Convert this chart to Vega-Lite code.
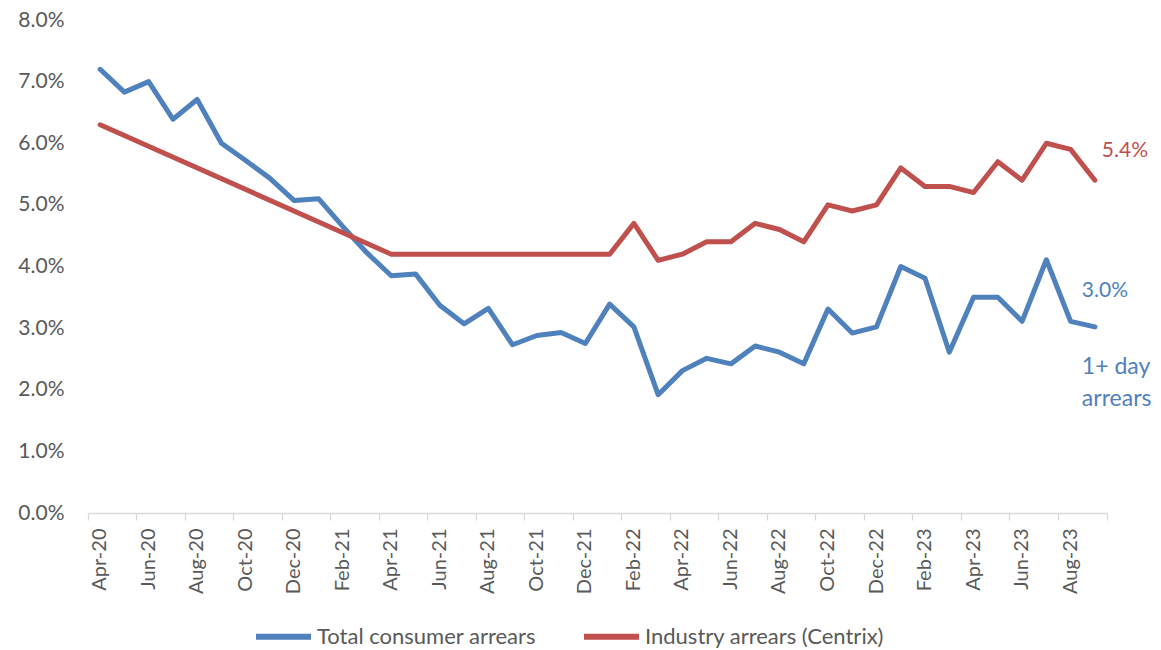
{
  "$schema": "https://vega.github.io/schema/vega-lite/v6.json",
  "width": 1019,
  "height": 493,
  "autosize": {"type": "none"},
  "padding": {"left": 88, "top": 20, "right": 54, "bottom": 137},
  "background": "white",
  "config": {"view": {"stroke": null}, "font": "Lato"},
  "data": {
    "values": [
      {"month": "Apr-20", "series": "Total consumer arrears", "value": 0.072},
      {"month": "May-20", "series": "Total consumer arrears", "value": 0.0683},
      {"month": "Jun-20", "series": "Total consumer arrears", "value": 0.07},
      {"month": "Jul-20", "series": "Total consumer arrears", "value": 0.0639},
      {"month": "Aug-20", "series": "Total consumer arrears", "value": 0.0671},
      {"month": "Sep-20", "series": "Total consumer arrears", "value": 0.06},
      {"month": "Oct-20", "series": "Total consumer arrears", "value": 0.0572},
      {"month": "Nov-20", "series": "Total consumer arrears", "value": 0.0543},
      {"month": "Dec-20", "series": "Total consumer arrears", "value": 0.0507},
      {"month": "Jan-21", "series": "Total consumer arrears", "value": 0.051},
      {"month": "Feb-21", "series": "Total consumer arrears", "value": 0.0465},
      {"month": "Mar-21", "series": "Total consumer arrears", "value": 0.0422},
      {"month": "Apr-21", "series": "Total consumer arrears", "value": 0.0385},
      {"month": "May-21", "series": "Total consumer arrears", "value": 0.0388},
      {"month": "Jun-21", "series": "Total consumer arrears", "value": 0.0337},
      {"month": "Jul-21", "series": "Total consumer arrears", "value": 0.0307},
      {"month": "Aug-21", "series": "Total consumer arrears", "value": 0.0332},
      {"month": "Sep-21", "series": "Total consumer arrears", "value": 0.0273},
      {"month": "Oct-21", "series": "Total consumer arrears", "value": 0.0288},
      {"month": "Nov-21", "series": "Total consumer arrears", "value": 0.0293},
      {"month": "Dec-21", "series": "Total consumer arrears", "value": 0.0275},
      {"month": "Jan-22", "series": "Total consumer arrears", "value": 0.0339},
      {"month": "Feb-22", "series": "Total consumer arrears", "value": 0.0302},
      {"month": "Mar-22", "series": "Total consumer arrears", "value": 0.0192},
      {"month": "Apr-22", "series": "Total consumer arrears", "value": 0.0231},
      {"month": "May-22", "series": "Total consumer arrears", "value": 0.0251},
      {"month": "Jun-22", "series": "Total consumer arrears", "value": 0.0242},
      {"month": "Jul-22", "series": "Total consumer arrears", "value": 0.0271},
      {"month": "Aug-22", "series": "Total consumer arrears", "value": 0.0261},
      {"month": "Sep-22", "series": "Total consumer arrears", "value": 0.0242},
      {"month": "Oct-22", "series": "Total consumer arrears", "value": 0.0331},
      {"month": "Nov-22", "series": "Total consumer arrears", "value": 0.0292},
      {"month": "Dec-22", "series": "Total consumer arrears", "value": 0.0302},
      {"month": "Jan-23", "series": "Total consumer arrears", "value": 0.04},
      {"month": "Feb-23", "series": "Total consumer arrears", "value": 0.0381},
      {"month": "Mar-23", "series": "Total consumer arrears", "value": 0.0261},
      {"month": "Apr-23", "series": "Total consumer arrears", "value": 0.035},
      {"month": "May-23", "series": "Total consumer arrears", "value": 0.035},
      {"month": "Jun-23", "series": "Total consumer arrears", "value": 0.0311},
      {"month": "Jul-23", "series": "Total consumer arrears", "value": 0.0411},
      {"month": "Aug-23", "series": "Total consumer arrears", "value": 0.0311},
      {"month": "Sep-23", "series": "Total consumer arrears", "value": 0.0302},
      {"month": "Apr-20", "series": "Industry arrears (Centrix)", "value": 0.063},
      {"month": "Apr-21", "series": "Industry arrears (Centrix)", "value": 0.042},
      {"month": "May-21", "series": "Industry arrears (Centrix)", "value": 0.042},
      {"month": "Jun-21", "series": "Industry arrears (Centrix)", "value": 0.042},
      {"month": "Jul-21", "series": "Industry arrears (Centrix)", "value": 0.042},
      {"month": "Aug-21", "series": "Industry arrears (Centrix)", "value": 0.042},
      {"month": "Sep-21", "series": "Industry arrears (Centrix)", "value": 0.042},
      {"month": "Oct-21", "series": "Industry arrears (Centrix)", "value": 0.042},
      {"month": "Nov-21", "series": "Industry arrears (Centrix)", "value": 0.042},
      {"month": "Dec-21", "series": "Industry arrears (Centrix)", "value": 0.042},
      {"month": "Jan-22", "series": "Industry arrears (Centrix)", "value": 0.042},
      {"month": "Feb-22", "series": "Industry arrears (Centrix)", "value": 0.047},
      {"month": "Mar-22", "series": "Industry arrears (Centrix)", "value": 0.041},
      {"month": "Apr-22", "series": "Industry arrears (Centrix)", "value": 0.042},
      {"month": "May-22", "series": "Industry arrears (Centrix)", "value": 0.044},
      {"month": "Jun-22", "series": "Industry arrears (Centrix)", "value": 0.044},
      {"month": "Jul-22", "series": "Industry arrears (Centrix)", "value": 0.047},
      {"month": "Aug-22", "series": "Industry arrears (Centrix)", "value": 0.046},
      {"month": "Sep-22", "series": "Industry arrears (Centrix)", "value": 0.044},
      {"month": "Oct-22", "series": "Industry arrears (Centrix)", "value": 0.05},
      {"month": "Nov-22", "series": "Industry arrears (Centrix)", "value": 0.049},
      {"month": "Dec-22", "series": "Industry arrears (Centrix)", "value": 0.05},
      {"month": "Jan-23", "series": "Industry arrears (Centrix)", "value": 0.056},
      {"month": "Feb-23", "series": "Industry arrears (Centrix)", "value": 0.053},
      {"month": "Mar-23", "series": "Industry arrears (Centrix)", "value": 0.053},
      {"month": "Apr-23", "series": "Industry arrears (Centrix)", "value": 0.052},
      {"month": "May-23", "series": "Industry arrears (Centrix)", "value": 0.057},
      {"month": "Jun-23", "series": "Industry arrears (Centrix)", "value": 0.054},
      {"month": "Jul-23", "series": "Industry arrears (Centrix)", "value": 0.06},
      {"month": "Aug-23", "series": "Industry arrears (Centrix)", "value": 0.059},
      {"month": "Sep-23", "series": "Industry arrears (Centrix)", "value": 0.054}
    ]
  },
  "encoding": {
    "y": {
      "field": "value",
      "type": "quantitative",
      "title": null,
      "scale": {"domain": [0, 0.08], "nice": false, "zero": true},
      "axis": {
        "values": [0, 0.01, 0.02, 0.03, 0.04, 0.05, 0.06, 0.07, 0.08],
        "format": ".1%",
        "domain": false,
        "ticks": false,
        "grid": false,
        "labelPadding": 24,
        "labelFontSize": 21,
        "labelFont": "Lato",
        "labelColor": "#595959"
      }
    }
  },
  "layer": [
    {
      "mark": {"type": "line", "strokeWidth": 5, "strokeCap": "round", "strokeJoin": "round"},
      "encoding": {
        "x": {
          "field": "month",
          "type": "ordinal",
          "sort": null,
          "bandPosition": 0.5,
          "title": null,
          "scale": {"type": "band", "paddingInner": 0, "paddingOuter": 0},
          "axis": {
            "values": ["Apr-20", "Jun-20", "Aug-20", "Oct-20", "Dec-20", "Feb-21", "Apr-21", "Jun-21", "Aug-21", "Oct-21", "Dec-21", "Feb-22", "Apr-22", "Jun-22", "Aug-22", "Oct-22", "Dec-22", "Feb-23", "Apr-23", "Jun-23", "Aug-23"],
            "orient": "bottom",
            "bandPosition": 0,
            "labelAngle": -90,
            "labelFontSize": 20,
            "labelFont": "Lato",
            "labelColor": "#595959",
            "labelPadding": 8,
            "tickSize": 7,
            "tickColor": "#d9d9d9",
            "tickWidth": 1.3,
            "domainColor": "#d9d9d9",
            "domainWidth": 1.3,
            "grid": false
          }
        },
        "color": {
          "field": "series",
          "type": "nominal",
          "scale": {"domain": ["Total consumer arrears", "Industry arrears (Centrix)"], "range": ["#4F81BD", "#C0504D"]},
          "legend": {
            "orient": "none",
            "legendX": 165,
            "legendY": 586,
            "direction": "horizontal",
            "columns": 2,
            "title": null,
            "symbolType": "stroke",
            "symbolSize": 3025,
            "symbolStrokeWidth": 6,
            "labelFontSize": 22,
            "labelFont": "Lato",
            "labelColor": "#595959",
            "labelOffset": 3,
            "columnPadding": 36,
            "padding": 0,
            "labelLimit": 400
          }
        }
      }
    },
    {
      "transform": [{"filter": "datum.series === 'Industry arrears (Centrix)' && datum.month === 'Sep-23'"}],
      "mark": {"type": "text", "align": "left", "baseline": "middle", "dx": 7, "dy": -29, "fontSize": 21, "font": "Lato", "color": "#C0504D"},
      "encoding": {
        "x": {
          "field": "month",
          "type": "ordinal",
          "sort": null,
          "bandPosition": 0.5,
          "title": null,
          "scale": {"type": "band", "paddingInner": 0, "paddingOuter": 0},
          "axis": {
            "values": ["Sep-23"],
            "orient": "bottom",
            "bandPosition": 1,
            "labels": false,
            "domain": false,
            "grid": false,
            "tickSize": 7,
            "tickColor": "#d9d9d9",
            "tickWidth": 1.3
          }
        },
        "text": {"field": "value", "type": "quantitative", "format": ".1%"}
      }
    },
    {
      "transform": [{"filter": "datum.series === 'Total consumer arrears' && datum.month === 'Sep-23'"}],
      "mark": {"type": "text", "align": "left", "baseline": "middle", "dx": -13, "dy": -36, "fontSize": 21, "font": "Lato", "color": "#4F81BD"},
      "encoding": {
        "x": {
          "field": "month",
          "type": "ordinal",
          "sort": null,
          "bandPosition": 0.5,
          "title": null,
          "scale": {"type": "band", "paddingInner": 0, "paddingOuter": 0},
          "axis": null
        },
        "text": {"field": "value", "type": "quantitative", "format": ".1%"}
      }
    },
    {
      "transform": [{"filter": "datum.series === 'Total consumer arrears' && datum.month === 'Sep-23'"}],
      "mark": {"type": "text", "text": ["1+ day", "arrears"], "align": "left", "baseline": "alphabetic", "dx": -13, "dy": 47, "lineHeight": 32, "fontSize": 23, "font": "Lato", "color": "#4F81BD"},
      "encoding": {
        "x": {
          "field": "month",
          "type": "ordinal",
          "sort": null,
          "bandPosition": 0.5,
          "title": null,
          "scale": {"type": "band", "paddingInner": 0, "paddingOuter": 0},
          "axis": null
        }
      }
    }
  ],
  "resolve": {"axis": {"x": "independent"}}
}
